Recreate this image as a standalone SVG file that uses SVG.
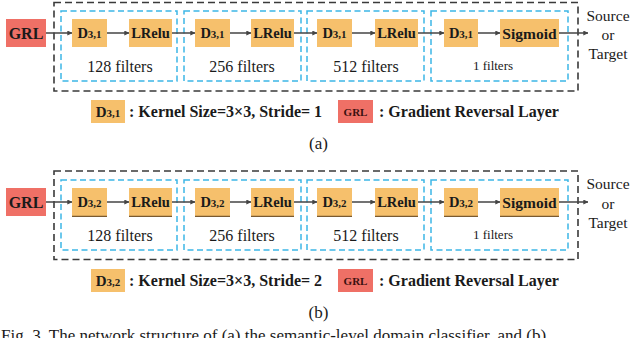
<svg xmlns="http://www.w3.org/2000/svg" width="640" height="338" viewBox="0 0 640 338">
<defs>
<style>
.bg{fill:#ffffff}
.org{fill:#f6c06c}
.red{fill:#ef7066}
.outer{fill:none;stroke:#3a3a3a;stroke-width:1.6;stroke-dasharray:7 4}
.blue{fill:none;stroke:#3cb6e6;stroke-width:1.5;stroke-dasharray:6 3.5}
.edge{stroke:#7a5a30;stroke-width:1.2}
.t{font-family:'Liberation Serif','Tinos','DejaVu Serif','Noto Serif',serif;fill:#1a1a1a}
.b{font-weight:bold}
.m{text-anchor:middle}
.conn line{stroke:#444444;stroke-width:1.5;marker-end:url(#ah)}
</style>
<marker id="ah" viewBox="0 0 8 8" refX="7.5" refY="4" markerWidth="5" markerHeight="5" orient="auto" markerUnits="userSpaceOnUse">
<path d="M0,0 L8,4 L0,8 z" fill="#444444"/>
</marker>
</defs>
<rect class="bg" x="0" y="0" width="640" height="338"/>

<g id="part-a" font-family="Liberation Serif, DejaVu Serif, serif">
  <g id="frames-a">
    <rect class="outer" x="54" y="2.5" width="524" height="88.5"/>
    <rect class="blue" x="61" y="11" width="116" height="70"/>
    <rect class="blue" x="184" y="11" width="117" height="70"/>
    <rect class="blue" x="307" y="11" width="117" height="70"/>
    <rect class="blue" x="431" y="11" width="137" height="70"/>
  </g>
  <g id="grl-a"><rect class="red" x="6" y="19" width="40" height="28"/><text class="t b m" x="26" y="39" font-size="16">GRL</text></g>
  <g id="d1-a"><rect class="org" x="72" y="19" width="35" height="28"/><text class="t b m" x="89.5" y="38" font-size="14.5">D<tspan font-size="11">3,1</tspan></text></g>
  <g id="l1-a"><rect class="org" x="129" y="19" width="43" height="28"/><text class="t b m" x="150.5" y="38" font-size="14.5">LRelu</text></g>
  <g id="d2-a"><rect class="org" x="195" y="19" width="35" height="28"/><text class="t b m" x="212.5" y="38" font-size="14.5">D<tspan font-size="11">3,1</tspan></text></g>
  <g id="l2-a"><rect class="org" x="251" y="19" width="43" height="28"/><text class="t b m" x="272.5" y="38" font-size="14.5">LRelu</text></g>
  <g id="d3-a"><rect class="org" x="317" y="19" width="35" height="28"/><text class="t b m" x="334.5" y="38" font-size="14.5">D<tspan font-size="11">3,1</tspan></text></g>
  <g id="l3-a"><rect class="org" x="375" y="19" width="43" height="28"/><text class="t b m" x="396.5" y="38" font-size="14.5">LRelu</text></g>
  <g id="d4-a"><rect class="org" x="444" y="19" width="34" height="28"/><text class="t b m" x="461" y="38" font-size="14.5">D<tspan font-size="11">3,1</tspan></text></g>
  <g id="sig-a"><rect class="org" x="500" y="19" width="59" height="28"/><text class="t b m" x="529.5" y="38.5" font-size="15.5">Sigmoid</text></g>
  <g id="out-a"><text class="t m" x="608" y="21" font-size="15.5">Source</text><text class="t m" x="608" y="40" font-size="15.5">or</text><text class="t m" x="608" y="59" font-size="15.5">Target</text></g>
  <g id="labels-a">
    <text class="t m" x="120" y="72" font-size="16">128 filters</text>
    <text class="t m" x="242" y="72" font-size="16">256 filters</text>
    <text class="t m" x="366" y="72" font-size="16">512 filters</text>
    <text class="t m" x="493" y="70" font-size="13">1 filters</text>
  </g>
  <g class="conn" id="connectors-a">
    <line x1="46" y1="33" x2="72" y2="33"/>
    <line x1="107" y1="33" x2="129" y2="33"/>
    <line x1="172" y1="33" x2="195" y2="33"/>
    <line x1="230" y1="33" x2="251" y2="33"/>
    <line x1="294" y1="33" x2="317" y2="33"/>
    <line x1="352" y1="33" x2="375" y2="33"/>
    <line x1="418" y1="33" x2="444" y2="33"/>
    <line x1="478" y1="33" x2="500" y2="33"/>
    <line x1="559" y1="33" x2="588" y2="33"/>
  </g>
  <g id="legend-a">
    <rect class="org" x="91" y="100" width="34" height="23"/>
    <text class="t b m" x="108" y="117" font-size="15">D<tspan font-size="11">3,1</tspan></text>
    <text class="t b" x="129" y="117" font-size="16">: Kernel Size=3×3, Stride= 1</text>
    <rect class="red" x="338" y="100" width="35" height="23"/>
    <text class="t b m" x="355.5" y="115.5" font-size="11" style="fill:#3a1010">GRL</text>
    <text class="t b" x="379" y="117" font-size="16">: Gradient Reversal Layer</text>
  </g>
  <text class="t m" x="318.5" y="149" font-size="17">(a)</text>
</g>

<g id="part-b" transform="translate(0,169)" font-family="Liberation Serif, DejaVu Serif, serif">
  <g id="frames-b">
    <rect class="outer" x="54" y="2" width="524" height="88.5"/>
    <rect class="blue" x="61" y="11" width="116" height="70"/>
    <rect class="blue" x="184" y="11" width="117" height="70"/>
    <rect class="blue" x="307" y="11" width="117" height="70"/>
    <rect class="blue" x="431" y="11" width="137" height="70"/>
  </g>
  <g id="grl-b"><rect class="red" x="6" y="19" width="40" height="28"/><text class="t b m" x="26" y="39" font-size="16">GRL</text></g>
  <g id="d1-b"><rect class="org" x="72" y="19" width="35" height="28"/><line class="edge" x1="72" y1="47.4" x2="107" y2="47.4"/><text class="t b m" x="89.5" y="38" font-size="14.5">D<tspan font-size="11">3,2</tspan></text></g>
  <g id="l1-b"><rect class="org" x="129" y="19" width="43" height="28"/><line class="edge" x1="129" y1="47.4" x2="172" y2="47.4"/><text class="t b m" x="150.5" y="38" font-size="14.5">LRelu</text></g>
  <g id="d2-b"><rect class="org" x="195" y="19" width="35" height="28"/><line class="edge" x1="195" y1="47.4" x2="230" y2="47.4"/><text class="t b m" x="212.5" y="38" font-size="14.5">D<tspan font-size="11">3,2</tspan></text></g>
  <g id="l2-b"><rect class="org" x="251" y="19" width="43" height="28"/><line class="edge" x1="251" y1="47.4" x2="294" y2="47.4"/><text class="t b m" x="272.5" y="38" font-size="14.5">LRelu</text></g>
  <g id="d3-b"><rect class="org" x="317" y="19" width="35" height="28"/><line class="edge" x1="317" y1="47.4" x2="352" y2="47.4"/><text class="t b m" x="334.5" y="38" font-size="14.5">D<tspan font-size="11">3,2</tspan></text></g>
  <g id="l3-b"><rect class="org" x="375" y="19" width="43" height="28"/><line class="edge" x1="375" y1="47.4" x2="418" y2="47.4"/><text class="t b m" x="396.5" y="38" font-size="14.5">LRelu</text></g>
  <g id="d4-b"><rect class="org" x="444" y="19" width="34" height="28"/><line class="edge" x1="444" y1="47.4" x2="478" y2="47.4"/><text class="t b m" x="461" y="38" font-size="14.5">D<tspan font-size="11">3,2</tspan></text></g>
  <g id="sig-b"><rect class="org" x="500" y="19" width="59" height="28"/><line class="edge" x1="500" y1="47.4" x2="559" y2="47.4"/><text class="t b m" x="529.5" y="38.5" font-size="15.5">Sigmoid</text></g>
  <g id="out-b"><text class="t m" x="608" y="20" font-size="15.5">Source</text><text class="t m" x="608" y="39.5" font-size="15.5">or</text><text class="t m" x="608" y="59" font-size="15.5">Target</text></g>
  <g id="labels-b">
    <text class="t m" x="120" y="72" font-size="16">128 filters</text>
    <text class="t m" x="242" y="72" font-size="16">256 filters</text>
    <text class="t m" x="366" y="72" font-size="16">512 filters</text>
    <text class="t m" x="493" y="70" font-size="13">1 filters</text>
  </g>
  <g class="conn" id="connectors-b">
    <line x1="46" y1="33" x2="72" y2="33"/>
    <line x1="107" y1="33" x2="129" y2="33"/>
    <line x1="172" y1="33" x2="195" y2="33"/>
    <line x1="230" y1="33" x2="251" y2="33"/>
    <line x1="294" y1="33" x2="317" y2="33"/>
    <line x1="352" y1="33" x2="375" y2="33"/>
    <line x1="418" y1="33" x2="444" y2="33"/>
    <line x1="478" y1="33" x2="500" y2="33"/>
    <line x1="559" y1="33" x2="588" y2="33"/>
  </g>
  <g id="legend-b">
    <rect class="org" x="91" y="100" width="34" height="23"/>
    <text class="t b m" x="108" y="117" font-size="15">D<tspan font-size="11">3,2</tspan></text>
    <text class="t b" x="129" y="117" font-size="16">: Kernel Size=3×3, Stride= 2</text>
    <rect class="red" x="338" y="100" width="35" height="23"/>
    <text class="t b m" x="355.5" y="115.5" font-size="11" style="fill:#3a1010">GRL</text>
    <text class="t b" x="379" y="117" font-size="16">: Gradient Reversal Layer</text>
  </g>
  <text class="t m" x="318.5" y="149" font-size="17">(b)</text>
</g>

<text class="t" x="1" y="341" font-size="17">Fig. 3. The network structure of (a) the semantic-level domain classifier, and (b)</text>
</svg>
